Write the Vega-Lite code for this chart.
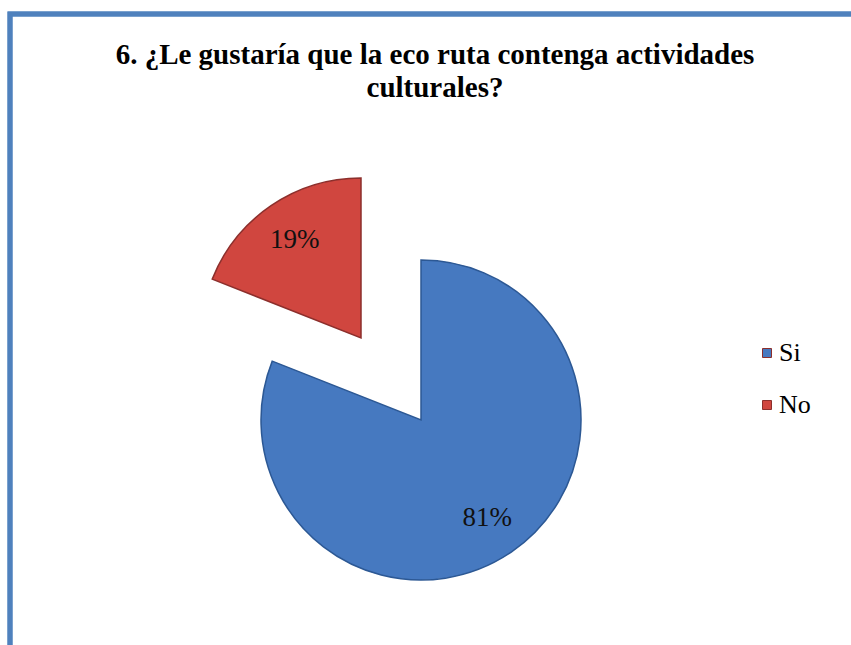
{
  "$schema": "https://vega.github.io/schema/vega-lite/v6.json",
  "autosize": "none",
  "padding": {"left": 10, "top": 14, "right": 0, "bottom": 0},
  "width": 846,
  "height": 812,
  "background": "white",
  "config": {"view": {"stroke": null}},
  "title": {
    "text": ["6.  ¿Le gustaría que la eco ruta contenga actividades", "culturales?"],
    "font": "Liberation Serif",
    "fontSize": 29,
    "fontWeight": "bold",
    "color": "black",
    "anchor": "middle",
    "frame": "group",
    "offset": -91,
    "dx": 2,
    "lineHeight": 33
  },
  "data": {
    "values": [
      {"respuesta": "Si", "porcentaje": 81, "etiqueta": "81%"},
      {"respuesta": "No", "porcentaje": 19, "etiqueta": "19%"}
    ]
  },
  "layer": [
    {
      "mark": {"type": "rect", "fill": null, "stroke": "#4F81BD", "strokeWidth": 5},
      "encoding": {}
    },
    {
      "mark": {"type": "arc", "radius": 160, "xOffset": -12, "strokeWidth": 1.5},
      "encoding": {
        "theta": {"field": "porcentaje", "type": "quantitative", "stack": true},
        "order": {"field": "porcentaje", "type": "quantitative", "sort": "descending"},
        "color": {
          "field": "respuesta",
          "type": "nominal",
          "scale": {"domain": ["Si", "No"], "range": ["#4679C0", "#D0463F"]},
          "legend": {
            "title": null,
            "orient": "none",
            "legendX": 744,
            "legendY": 326,
            "symbolType": "square",
            "symbolSize": 81,
            "symbolStrokeWidth": 1,
            "labelFont": "Liberation Serif",
            "labelFontSize": 26,
            "labelColor": "black",
            "labelOffset": -1,
            "rowPadding": 26,
            "padding": 0
          }
        },
        "stroke": {"condition": {"test": "datum.respuesta === 'Si'", "value": "#2C5894"}, "value": "#8C2F2C"},
        "opacity": {"condition": {"test": "datum.respuesta === 'Si'", "value": 1}, "value": 0}
      }
    },
    {
      "mark": {"type": "arc", "radius": 160, "xOffset": -72, "yOffset": -82, "strokeWidth": 1.5},
      "encoding": {
        "theta": {"field": "porcentaje", "type": "quantitative", "stack": true},
        "order": {"field": "porcentaje", "type": "quantitative", "sort": "descending"},
        "color": {"field": "respuesta", "type": "nominal"},
        "stroke": {"condition": {"test": "datum.respuesta === 'Si'", "value": "#2C5894"}, "value": "#8C2F2C"},
        "opacity": {"condition": {"test": "datum.respuesta === 'No'", "value": 1}, "value": 0}
      }
    },
    {
      "mark": {"type": "text", "radius": 118, "xOffset": -12, "font": "Liberation Serif", "fontSize": 27, "color": "#111111"},
      "encoding": {
        "theta": {"field": "porcentaje", "type": "quantitative", "stack": true},
        "order": {"field": "porcentaje", "type": "quantitative", "sort": "descending"},
        "text": {"field": "etiqueta", "type": "nominal"},
        "opacity": {"condition": {"test": "datum.respuesta === 'Si'", "value": 1}, "value": 0}
      }
    },
    {
      "mark": {"type": "text", "radius": 118, "xOffset": -72, "yOffset": -82, "font": "Liberation Serif", "fontSize": 27, "color": "#111111"},
      "encoding": {
        "theta": {"field": "porcentaje", "type": "quantitative", "stack": true},
        "order": {"field": "porcentaje", "type": "quantitative", "sort": "descending"},
        "text": {"field": "etiqueta", "type": "nominal"},
        "opacity": {"condition": {"test": "datum.respuesta === 'No'", "value": 1}, "value": 0}
      }
    }
  ]
}
